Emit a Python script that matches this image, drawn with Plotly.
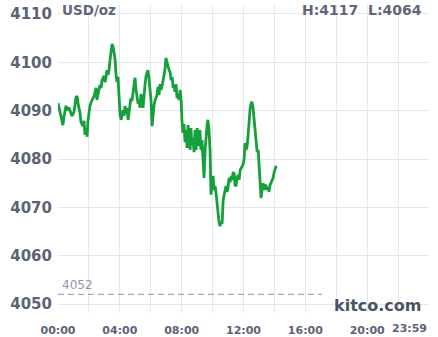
import plotly.graph_objects as go

# minutes after midnight
minutes = [0, 8, 16, 19, 23, 31, 35, 43, 54, 62, 70, 74, 78, 85, 89, 97, 101, 105, 109, 113,
           116, 124, 132, 140, 144, 148, 151, 159, 163, 167, 171, 179, 183, 186, 190, 194, 198, 202, 206, 210,
           214, 217, 221, 225, 229, 233, 237, 241, 245, 249, 252, 256, 260, 264, 268, 272, 276, 280, 283, 287,
           291, 295, 299, 303, 307, 311, 315, 318, 322, 326, 330, 334, 338, 342, 346, 349, 353, 357, 361, 365,
           369, 373, 377, 381, 384, 388, 392, 396, 400, 404, 408, 412, 415, 419, 423, 427, 431, 435, 439, 443,
           447, 450, 454, 458, 462, 466, 470, 474, 478, 481, 485, 489, 493, 497, 501, 505, 509, 513, 516, 520,
           524, 528, 532, 536, 540, 544, 548, 551, 555, 559, 563, 567, 571, 575, 579, 582, 586, 590, 594, 598,
           602, 606, 610, 614, 617, 621, 625, 629, 633, 637, 641, 645, 649, 652, 656, 660, 664, 668, 672, 676,
           680, 684, 687, 691, 695, 699, 703, 707, 711, 715, 718, 722, 726, 730, 734, 738, 742, 746, 750, 753,
           757, 761, 765, 769, 773, 777, 781, 784, 788, 792, 796, 800, 804, 808, 812, 815, 819, 823, 827, 831,
           835, 839, 843, 847]
prices = [4091.6, 4089.7, 4087.7, 4087.0, 4088.7, 4091.0, 4090.1, 4090.6, 4088.9, 4089.7, 4092.8, 4093.0, 4091.4, 4089.7, 4087.7, 4086.8, 4087.9, 4085.0, 4086.4, 4084.6,
          4087.7, 4091.0, 4092.2, 4093.0, 4093.9, 4094.7, 4092.2, 4094.3, 4095.3, 4094.7, 4096.3, 4097.2, 4095.9, 4096.8, 4098.4, 4097.4, 4098.4, 4100.5, 4102.6, 4103.8,
          4103.2, 4102.1, 4100.9, 4097.6, 4095.9, 4097.0, 4093.2, 4089.1, 4088.1, 4089.7, 4090.1, 4088.9, 4091.0, 4089.3, 4090.6, 4088.1, 4089.7, 4091.4, 4092.6, 4092.0,
          4093.9, 4095.3, 4096.8, 4094.3, 4093.0, 4091.4, 4092.2, 4090.6, 4093.4, 4092.6, 4090.6, 4093.9, 4095.5, 4097.2, 4098.0, 4098.4, 4096.8, 4094.3, 4092.2, 4086.8,
          4089.3, 4091.2, 4092.2, 4092.6, 4093.2, 4094.9, 4093.2, 4095.5, 4094.3, 4095.1, 4096.3, 4097.6, 4098.4, 4100.9, 4100.1, 4098.8, 4098.4, 4098.0, 4096.3, 4097.0,
          4094.7, 4095.3, 4093.9, 4095.5, 4092.6, 4093.4, 4092.2, 4094.3, 4092.2, 4088.1, 4085.4, 4087.2, 4083.5, 4086.0, 4082.3, 4087.0, 4083.9, 4081.9, 4086.4, 4082.9,
          4084.3, 4081.4, 4086.0, 4081.9, 4086.4, 4082.7, 4084.3, 4086.0, 4081.9, 4083.9, 4079.8, 4076.1, 4081.9, 4086.0, 4087.2, 4088.1, 4086.0, 4081.9, 4072.6, 4075.7,
          4076.5, 4073.6, 4074.4, 4072.6, 4070.5, 4069.0, 4067.0, 4066.1, 4067.0, 4066.6, 4071.5, 4072.6, 4073.6, 4074.4, 4073.2, 4074.0, 4076.1, 4075.2, 4076.5, 4075.7,
          4077.3, 4076.9, 4074.6, 4074.4, 4076.1, 4076.7, 4075.7, 4077.7, 4078.1, 4078.6, 4078.8, 4079.8, 4083.3, 4081.9, 4082.7, 4085.0, 4088.1, 4090.6, 4091.6, 4091.8,
          4090.6, 4088.1, 4086.0, 4082.3, 4081.4, 4081.9, 4078.8, 4075.7, 4071.9, 4073.6, 4075.0, 4073.6, 4074.6, 4074.4, 4073.6, 4074.2, 4073.2, 4074.6, 4075.2, 4075.7,
          4076.1, 4077.3, 4078.1, 4078.6]

y_ticks = [4050, 4060, 4070, 4080, 4090, 4100, 4110]
x_grid = [0, 120, 240, 360, 480, 600, 720, 840, 960, 1080, 1200, 1320, 1440]
x_text = ["00:00", "", "04:00", "", "08:00", "", "12:00", "", "16:00", "", "20:00", "", ""]
prev_close = 4052
prev_close_end = 1025
high_low = "H:4117&nbsp;&nbsp;L:4064"

L, R, T, B = 58, 9, 5, 24
W, H = 438, 337
pw, ph = W - L - R, H - T - B

def px(xp):
    return (xp - L) / pw

def py(yp):
    return (H - B - yp) / ph

tick_col = "#5b6377"
grid_col = "#e5e7ee"

fig = go.Figure()
fig.add_trace(go.Scatter(x=minutes, y=prices, mode="lines",
                         line=dict(color="#15a03b", width=2.8), hoverinfo="skip"))
fig.add_trace(go.Scatter(x=[0, prev_close_end], y=[prev_close, prev_close], mode="lines",
                         line=dict(color="#8e94a3", width=1, dash="6px,4px"), hoverinfo="skip"))

fig.update_layout(
    width=W, height=H, margin=dict(l=L, r=R, t=T, b=B),
    paper_bgcolor="white", plot_bgcolor="white", showlegend=False,
    xaxis=dict(range=[0, 1440], tickvals=x_grid, ticktext=x_text, showgrid=True,
               gridcolor=grid_col, gridwidth=1, zeroline=False, showline=False,
               tickfont=dict(family="DejaVu Sans", size=11, color=tick_col, weight="bold"),
               ticks="", ticklabelstandoff=9, automargin=False, fixedrange=True),
    yaxis=dict(range=[4048.14, 4111.86], tickvals=y_ticks, showgrid=True,
               gridcolor=grid_col, gridwidth=1, zeroline=False, showline=False,
               tickfont=dict(family="DejaVu Sans", size=15, color=tick_col, weight="bold"),
               ticks="", ticklabelstandoff=5, automargin=False, fixedrange=True),
    annotations=[
        dict(text="USD/oz", xref="paper", yref="paper", x=px(60), y=py(9.5),
             xanchor="left", yanchor="middle", showarrow=False,
             font=dict(family="DejaVu Sans", size=13.5, color="#5f6779", weight="bold")),
        dict(text=high_low, xref="paper", yref="paper", x=px(424), y=py(9.5),
             xanchor="right", yanchor="middle", showarrow=False,
             font=dict(family="DejaVu Sans", size=14, color="#5f6779", weight="bold")),
        dict(text=str(prev_close), x=0, y=prev_close, xref="x", yref="y",
             xshift=2, yshift=9, xanchor="left", yanchor="middle", showarrow=False,
             font=dict(family="DejaVu Sans", size=12, color="#9097a5")),
        dict(text="kitco.com", xref="paper", yref="paper", x=px(423), y=py(305),
             xanchor="right", yanchor="middle", showarrow=False,
             font=dict(family="DejaVu Sans", size=16, color="#4b5266", weight="bold")),
        dict(text="23:59", xref="paper", yref="paper", x=px(428), y=py(328.5),
             xanchor="right", yanchor="middle", showarrow=False, borderpad=0,
             font=dict(family="DejaVu Sans", size=11, color=tick_col, weight="bold")),
    ],
)

fig.write_html("out.html")
